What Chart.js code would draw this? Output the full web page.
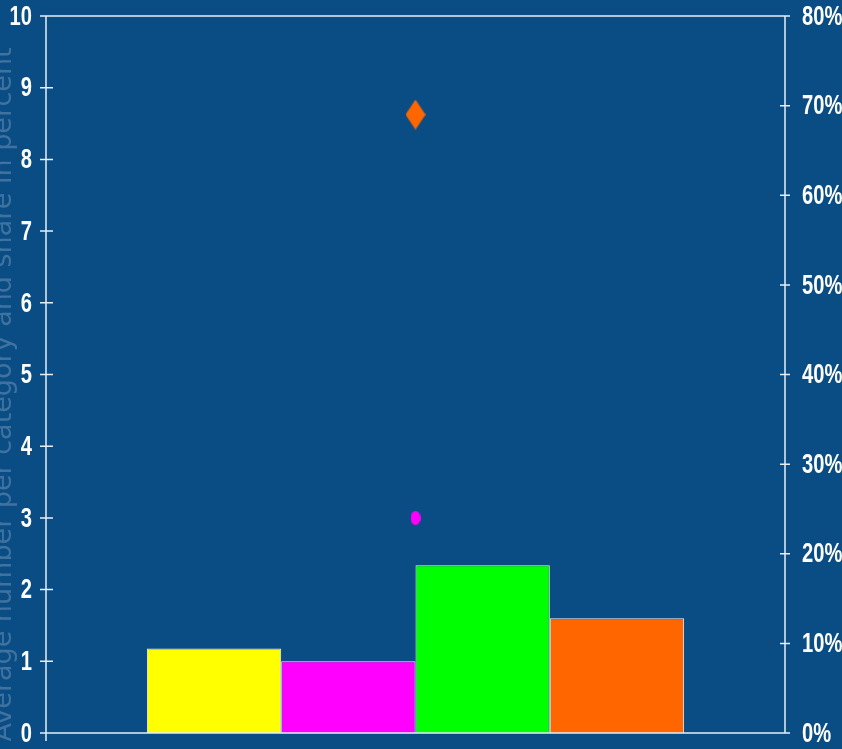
<!DOCTYPE html>
<html>
<head>
<meta charset="utf-8">
<script src="https://cdn.jsdelivr.net/npm/chart.js@4.4.1/dist/chart.umd.min.js"></script>
<style>
  html, body { margin: 0; padding: 0; background: #0a4d84; }
  #wrap { width: 842px; height: 749px; position: relative; }
</style>
</head>
<body>
<div id="wrap"><canvas id="chart" width="842" height="749"></canvas></div>
<script>
// Data
const categories = [''];
const barSeriesNames = ['Series 1', 'Series 2', 'Series 3', 'Series 4'];
const barValues = [1.18, 1.00, 2.34, 1.60];
const barColors = ['#ffff00', '#ff00ff', '#00ff00', '#ff6600'];
const pointSeriesNames = ['Share A', 'Share B'];
const pointValues = [24, 69];           // percent, right axis
const leftTicks = [0, 1, 2, 3, 4, 5, 6, 7, 8, 9, 10];
const rightTicks = [0, 10, 20, 30, 40, 50, 60, 70, 80];
const axisTitle = 'Average number per category and share in percent';

const BG = '#0a4d84';
const AXIS = '#e8eef5';
const LABEL_FONT = 'bold 28px "Liberation Sans", Arial, sans-serif';
const LABEL_SQUEEZE = 0.72;   // condensed look for the tick numbers

// Marker shapes drawn on small canvases
function diamondMarker(w, h, color) {
  const c = document.createElement('canvas');
  c.width = w; c.height = h;
  const g = c.getContext('2d');
  g.fillStyle = color;
  g.beginPath();
  g.moveTo(w / 2, 0); g.lineTo(w, h / 2); g.lineTo(w / 2, h); g.lineTo(0, h / 2);
  g.closePath(); g.fill();
  return c;
}
function ellipseMarker(w, h, color) {
  const c = document.createElement('canvas');
  c.width = w; c.height = h;
  const g = c.getContext('2d');
  g.fillStyle = color;
  g.beginPath();
  g.ellipse(w / 2, h / 2, w / 2, h / 2, 0, 0, Math.PI * 2);
  g.fill();
  return c;
}
const markers = [ellipseMarker(10, 14, '#ff00ff'), diamondMarker(20, 30, '#ff6600')];

const datasets = [];
pointValues.forEach((v, i) => {
  datasets.push({
    type: 'line', label: pointSeriesNames[i], data: [v], yAxisID: 'y1',
    showLine: false, pointStyle: markers[i], pointRadius: 10, pointHoverRadius: 10,
    order: 0
  });
});
barValues.forEach((v, i) => {
  datasets.push({
    type: 'bar', label: barSeriesNames[i], data: [v], yAxisID: 'y',
    backgroundColor: barColors[i], borderColor: '#f0f0f0', borderWidth: 1,
    barPercentage: 1, categoryPercentage: 0.727, order: 1
  });
});

// Draws one tick label squeezed horizontally, anchored at x
function squeezedText(ctx, text, x, y, align) {
  ctx.save();
  ctx.translate(x, y);
  ctx.scale(LABEL_SQUEEZE, 1);
  ctx.textAlign = align;
  ctx.fillText(text, 0, 0);
  ctx.restore();
}

// Background, frame, crossing tick marks, tick labels and the faded left title
const framePlugin = {
  id: 'frame',
  beforeDraw(chart) {
    const ctx = chart.ctx;
    ctx.save();
    ctx.fillStyle = BG;
    ctx.fillRect(0, 0, chart.width, chart.height);

    const a = chart.chartArea;
    ctx.fillStyle = 'rgba(130,160,192,0.45)';
    ctx.font = '27px "DejaVu Sans", sans-serif';
    ctx.textAlign = 'center';
    ctx.textBaseline = 'alphabetic';
    ctx.translate(11, (a.top + a.bottom) / 2 + 20);
    ctx.rotate(-Math.PI / 2);
    ctx.fillText(axisTitle, 0, 0);
    ctx.restore();
  },
  afterDraw(chart) {
    const ctx = chart.ctx;
    const a = chart.chartArea;
    const y = chart.scales.y, y1 = chart.scales.y1;
    ctx.save();
    ctx.strokeStyle = AXIS;
    ctx.lineWidth = 1.5;
    ctx.beginPath();
    ctx.moveTo(a.left, a.top); ctx.lineTo(a.left, a.bottom + 8);
    ctx.moveTo(a.right, a.top); ctx.lineTo(a.right, a.bottom);
    ctx.moveTo(a.left, a.top); ctx.lineTo(a.right, a.top);
    ctx.moveTo(a.left - 6, a.bottom); ctx.lineTo(a.right, a.bottom);
    leftTicks.forEach(v => {
      const p = y.getPixelForValue(v);
      ctx.moveTo(a.left - 6, p); ctx.lineTo(a.left + 7, p);
    });
    rightTicks.forEach(v => {
      const p = y1.getPixelForValue(v);
      ctx.moveTo(a.right - 5, p); ctx.lineTo(a.right + 5, p);
    });
    ctx.stroke();

    ctx.fillStyle = '#ffffff';
    ctx.font = LABEL_FONT;
    ctx.textBaseline = 'middle';
    leftTicks.forEach(v => {
      squeezedText(ctx, String(v), a.left - 14, y.getPixelForValue(v) + 1, 'right');
    });
    rightTicks.forEach(v => {
      squeezedText(ctx, v + '%', a.right + 17, y1.getPixelForValue(v) + 1, 'left');
    });
    ctx.restore();
  }
};

new Chart(document.getElementById('chart'), {
  type: 'bar',
  data: { labels: categories, datasets },
  plugins: [framePlugin],
  options: {
    responsive: false,
    animation: false,
    layout: { autoPadding: false, padding: { top: 16, left: 0, right: 0, bottom: 0 } },
    plugins: { legend: { display: false }, tooltip: { enabled: false } },
    scales: {
      x: {
        offset: true,
        grid: { display: false },
        border: { display: false },
        ticks: { display: false },
        afterFit(s) { s.height = 16; }
      },
      y: {
        position: 'left',
        min: 0, max: 10,
        grid: { display: false },
        border: { display: false },
        ticks: { stepSize: 1, display: false },
        afterFit(s) { s.width = 46; }
      },
      y1: {
        position: 'right',
        min: 0, max: 80,
        grid: { display: false },
        border: { display: false },
        ticks: { stepSize: 10, display: false },
        afterFit(s) { s.width = 57; }
      }
    }
  }
});
</script>
</body>
</html>
